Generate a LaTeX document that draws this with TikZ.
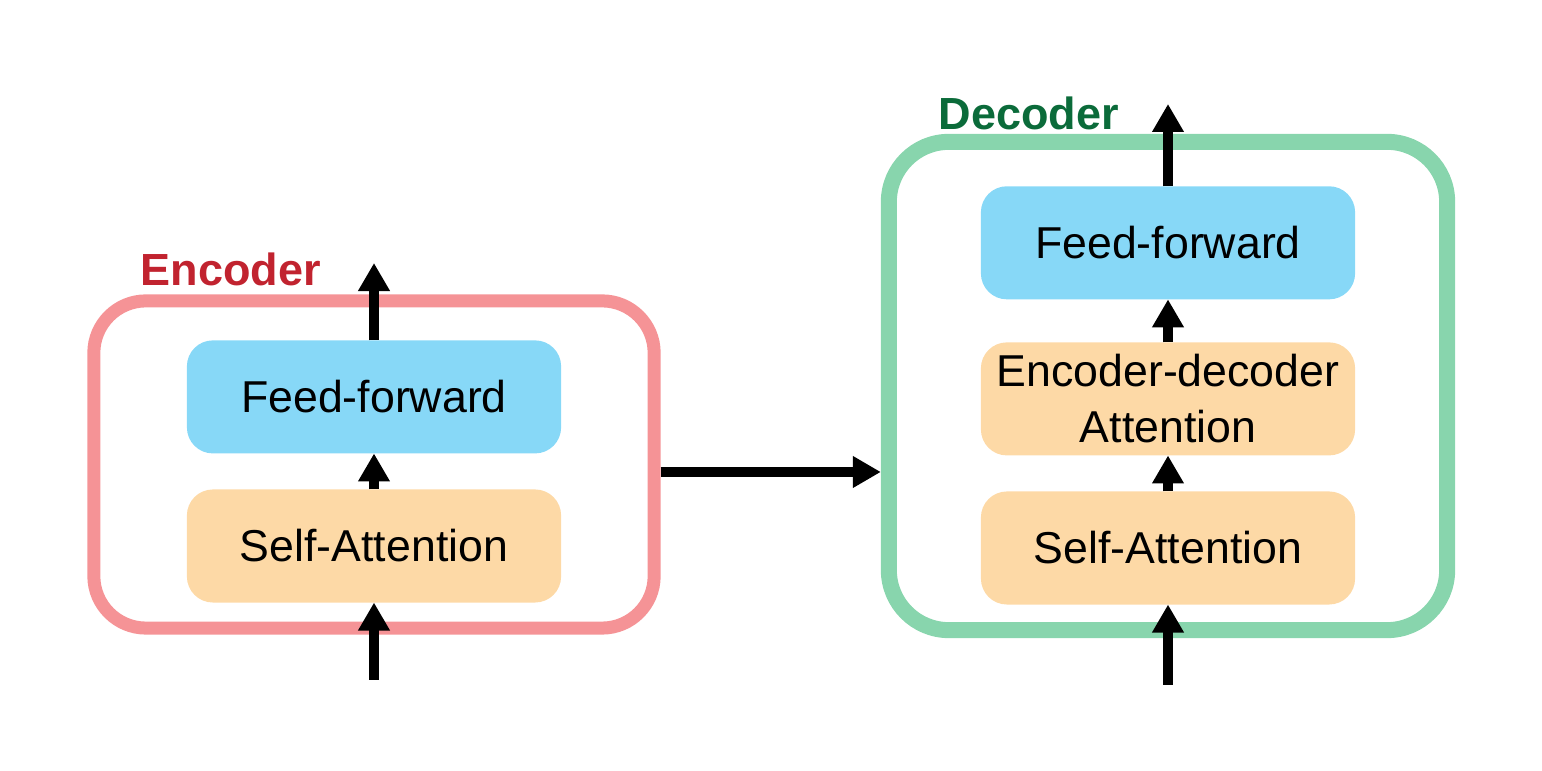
\documentclass[tikz,border=0pt]{standalone}
\usepackage{fontspec}
\setmainfont{Liberation Sans}
\usetikzlibrary{positioning,arrows.meta}

\definecolor{encRed}{HTML}{C1232F}
\definecolor{decGreen}{HTML}{0B6B3A}
\definecolor{encPink}{HTML}{F59396}
\definecolor{decMint}{HTML}{88D5AD}
\definecolor{ffBlue}{HTML}{87D8F7}
\definecolor{attnOrange}{HTML}{FDD9A6}

\begin{document}
\begin{tikzpicture}[x=0.01cm, y=-0.01cm, node distance=0.36cm]
    % Styles
    \tikzstyle{frame} = [draw, rounded corners=0.52cm, minimum width=5.6cm]
    \tikzstyle{block} = [rounded corners=0.26cm, minimum width=3.74cm, minimum height=1.13cm, inner sep=0pt, outer sep=0pt, align=center, font=\fontsize{12.7}{16}\selectfont]
    \tikzstyle{title} = [anchor=base west, inner sep=0pt, font=\fontsize{12.8}{15}\selectfont\bfseries]
    \tikzstyle{flow} = [-{Triangle[width=0.3cm, length=0.28cm]}, line width=0.1cm]

    \useasboundingbox (0,0) rectangle (1542,771);

    % Encoder
    \node [frame, line width=0.13cm, draw=encPink, minimum height=3.27cm] (encFrame) at (374,464.5) {};
    \node [block, fill=attnOrange] (encSelf) at (374,546) {Self-Attention};
    \node [block, fill=ffBlue, above=of encSelf] (encFF) {Feed-forward};
    \node [title, text=encRed] (encTitle) at (140,286) {Encoder};
    \coordinate (encIn) at (374,680);
    \coordinate (encOut) at (374,263);

    % Decoder
    \node [frame, line width=0.16cm, draw=decMint, rounded corners=0.6cm, minimum width=5.58cm, minimum height=4.88cm] (decFrame) at (1168,386) {};
    \node [block, fill=attnOrange] (decSelf) at (1168,548) {Self-Attention};
    \node [block, fill=attnOrange, above=of decSelf] (decCross) {Encoder-decoder\\Attention};
    \node [block, fill=ffBlue, above=0.43cm of decCross] (decFF) {Feed-forward};
    \node [title, text=decGreen] (decTitle) at (938,130) {Decoder};
    \coordinate (decIn) at (1168,685);
    \coordinate (decOut) at (1168,104);

    % Edges
    \draw [flow] (encIn) -- (encSelf);
    \draw [flow] (encSelf) -- (encFF);
    \draw [flow] (encFF) -- (encOut);
    \draw [flow] (encFrame.east |- 0,472) -- (decFrame.west |- 0,472);
    \draw [flow] (decIn) -- (decSelf);
    \draw [flow] (decSelf) -- (decCross);
    \draw [flow] (decCross) -- (decFF);
    \draw [flow] (decFF) -- (decOut);

\end{tikzpicture}
\end{document}
